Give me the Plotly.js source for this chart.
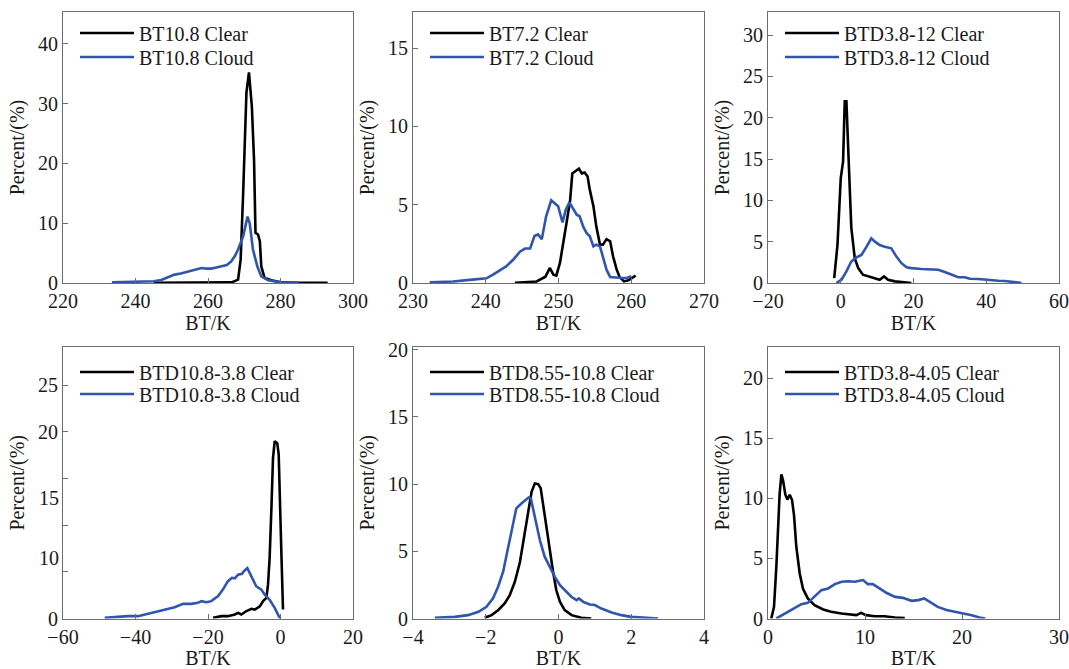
<!DOCTYPE html>
<html><head><meta charset="utf-8">
<script src="https://cdn.plot.ly/plotly-3.0.1.min.js"></script>
<style>html,body{margin:0;padding:0;background:#fff}#chart{width:1069px;height:669px}</style>
</head><body><div id="chart"></div>
<script>
// ---- Panel 1: BT10.8 ----
const bt108ClearX = [245, 255, 262, 266.5, 268.3, 269.0, 269.7, 270.6, 271.3, 272.1, 272.7, 273.1, 273.8, 274.3, 274.7, 275.6, 277.5, 280.3, 285, 293];
const bt108ClearY = [0.05, 0.05, 0.05, 0.1, 0.56, 3.9, 15, 31.8, 35.2, 29.5, 20.6, 8.4, 8.1, 7.0, 2.8, 0.84, 0.45, 0.1, 0.05, 0.05];
const bt108CloudX = [233.5, 238, 242.5, 245, 247.1, 249, 250.8, 252.5, 254.5, 256.5, 258.2, 259.5, 260.9, 262.3, 263.7, 265.2, 266.4, 267.5, 268.3, 269.7, 270.9, 271.5, 272.4, 273.6, 274.7, 276.6, 280.3, 285];
const bt108CloudY = [0.1, 0.15, 0.2, 0.3, 0.5, 0.9, 1.4, 1.6, 1.9, 2.2, 2.5, 2.4, 2.4, 2.6, 2.8, 3.0, 3.6, 4.6, 5.6, 7.8, 11.1, 10.0, 5.6, 2.8, 1.1, 0.45, 0.1, 0.05];

// ---- Panel 2: BT7.2 ----
const bt72ClearX = [244, 247, 248.2, 248.8, 249.3, 249.7, 250.2, 250.6, 251.1, 251.6, 251.9, 252.5, 252.8, 253.2, 253.6, 254.0, 254.3, 254.8, 255.2, 255.7, 256.1, 256.6, 257.1, 257.5, 258.0, 258.4, 259.0, 259.6, 260.3, 260.6];
const bt72ClearY = [0.02, 0.1, 0.4, 0.96, 0.53, 0.47, 1.28, 2.55, 3.83, 5.3, 7.0, 7.2, 7.3, 7.0, 7.06, 6.8, 5.96, 4.9, 3.6, 2.45, 2.45, 2.8, 2.66, 1.7, 0.85, 0.38, 0.1, 0.17, 0.38, 0.47];
const bt72CloudX = [232.3, 235.5, 237.8, 240.1, 241.0, 241.9, 242.8, 243.8, 244.7, 245.4, 246.1, 246.7, 247.2, 247.7, 248.3, 249.0, 249.5, 249.95, 250.55, 251.0, 251.5, 251.9, 252.5, 252.9, 253.4, 253.85, 254.3, 254.8, 255.2, 255.7, 256.1, 256.6, 257.1, 258.0, 258.7, 259.4, 260.0];
const bt72CloudY = [0.04, 0.1, 0.2, 0.3, 0.53, 0.8, 1.06, 1.5, 2.0, 2.2, 2.2, 3.0, 3.1, 2.8, 4.26, 5.28, 5.1, 4.9, 3.87, 4.68, 5.15, 4.8, 4.36, 4.26, 3.6, 3.2, 2.98, 2.34, 2.45, 2.34, 1.6, 0.85, 0.38, 0.32, 0.32, 0.32, 0.43];

// ---- Panel 3: BTD3.8-12 ----
const btd38_12ClearX = [-1.8, -0.9, 0.0, 0.64, 1.1, 1.56, 2.0, 2.5, 2.9, 3.85, 4.8, 6.1, 7.5, 9.4, 10.7, 11.9, 13.0, 14.9, 17.6, 19.4];
const btd38_12ClearY = [0.6, 4.6, 12.7, 14.7, 22.0, 22.0, 16.8, 10.7, 6.7, 3.0, 1.8, 1.0, 0.8, 0.52, 0.4, 0.8, 0.4, 0.2, 0.08, 0.0];
const btd38_12CloudX = [-1.2, 0.2, 1.56, 2.9, 4.3, 5.7, 7.1, 8.4, 9.4, 10.7, 12.1, 13.9, 15.3, 16.7, 18.1, 19.4, 22.2, 24.95, 26.8, 28.6, 30.5, 32.3, 34.1, 35.5, 37.8, 39.6, 41.5, 43.3, 45.1, 46.5, 48.3, 49.7];
const btd38_12CloudY = [0, 0.4, 1.4, 2.6, 3.1, 3.4, 4.4, 5.4, 5.0, 4.6, 4.4, 4.2, 3.2, 2.4, 1.9, 1.8, 1.7, 1.6, 1.6, 1.33, 1.0, 0.7, 0.7, 0.52, 0.48, 0.4, 0.28, 0.28, 0.24, 0.2, 0.08, 0];

// ---- Panel 4: BTD10.8-3.8 ----
const btd108_38ClearX = [-18.6, -16.3, -14.5, -12.6, -11.7, -10.8, -9.4, -8.0, -7.1, -5.7, -4.8, -3.9, -3.45, -3.0, -2.5, -2.07, -1.6, -0.9, -0.5, -0.14, 0.23, 0.69];
const btd108_38ClearY = [0.07, 0.25, 0.25, 0.43, 0.6, 0.43, 0.8, 1.04, 0.96, 1.3, 1.86, 2.2, 3.6, 6.5, 11.9, 17.2, 19.0, 18.8, 17.6, 13.6, 7.2, 0.96];
const btd108_38CloudX = [-48.5, -45.7, -42.1, -39.3, -37.5, -34.7, -32.0, -29.2, -26.9, -24.6, -22.8, -21.8, -20.5, -19.1, -17.2, -15.9, -14.5, -13.4, -12.6, -11.7, -10.6, -10.1, -9.15, -8.0, -6.7, -5.3, -4.4, -3.0, -1.6, -0.5, 0.0];
const btd108_38CloudY = [0.07, 0.18, 0.25, 0.25, 0.43, 0.68, 0.96, 1.2, 1.57, 1.57, 1.68, 1.86, 1.75, 1.86, 2.4, 3.1, 4.0, 4.36, 4.3, 4.7, 4.8, 5.07, 5.4, 4.5, 3.46, 3.1, 2.57, 2.0, 1.14, 0.25, 0];

// ---- Panel 5: BTD8.55-10.8 ----
const btd855_108ClearX = [-2.03, -1.84, -1.66, -1.48, -1.34, -1.2, -1.06, -0.94, -0.83, -0.74, -0.65, -0.56, -0.49, -0.42, -0.33, -0.24, -0.15, -0.06, 0.04, 0.17, 0.36, 0.63, 0.9];
const btd855_108ClearY = [0.05, 0.25, 0.62, 1.12, 1.74, 2.73, 4.2, 6.1, 7.94, 9.43, 10.05, 10.0, 9.7, 8.4, 6.7, 4.96, 3.5, 2.1, 1.24, 0.62, 0.25, 0.05, 0];
const btd855_108CloudX = [-3.4, -2.85, -2.49, -2.2, -1.98, -1.8, -1.66, -1.52, -1.39, -1.28, -1.16, -1.02, -0.93, -0.82, -0.76, -0.65, -0.51, -0.38, -0.24, -0.1, 0.04, 0.17, 0.36, 0.5, 0.56, 0.68, 0.86, 1.0, 1.18, 1.46, 1.73, 2.0, 2.38, 2.74];
const btd855_108CloudY = [0.05, 0.12, 0.25, 0.5, 0.87, 1.5, 2.36, 3.5, 5.2, 6.7, 8.2, 8.56, 8.73, 9.0, 8.93, 7.44, 5.8, 4.6, 3.85, 3.1, 2.48, 2.1, 1.6, 1.36, 1.49, 1.24, 1.04, 1.0, 0.74, 0.45, 0.25, 0.12, 0.05, 0];

// ---- Panel 6: BTD3.8-4.05 ----
const btd38_405ClearX = [0.34, 0.62, 0.86, 1.03, 1.2, 1.38, 1.55, 1.79, 2.0, 2.24, 2.48, 2.68, 2.92, 3.27, 3.6, 4.1, 4.8, 5.7, 6.5, 7.57, 8.4, 9.1, 9.6, 10.1, 11.0, 12.0, 13.1, 14.1];
const btd38_405ClearY = [0, 0.97, 4.3, 7.6, 10.4, 12.0, 11.5, 10.3, 9.9, 10.3, 9.86, 8.6, 5.97, 3.75, 2.5, 1.67, 1.1, 0.75, 0.56, 0.42, 0.33, 0.28, 0.47, 0.28, 0.19, 0.19, 0.08, 0.03];
const btd38_405CloudX = [0.86, 1.72, 2.58, 3.44, 4.1, 4.8, 5.5, 6.2, 6.9, 7.6, 8.26, 8.94, 9.8, 10.3, 10.8, 11.5, 12.2, 13.1, 13.9, 14.8, 15.5, 16.1, 16.7, 17.5, 18.4, 19.3, 20.1, 21.0, 21.8, 22.4];
const btd38_405CloudY = [0, 0.42, 0.83, 1.19, 1.3, 1.8, 2.36, 2.5, 2.86, 3.06, 3.1, 3.06, 3.2, 2.86, 2.86, 2.5, 2.14, 1.8, 1.72, 1.47, 1.53, 1.67, 1.39, 0.97, 0.7, 0.56, 0.42, 0.28, 0.08, 0];

// ---- Labels / ticks ----
const panelNames = ['BT10.8', 'BT7.2', 'BTD3.8-12', 'BTD10.8-3.8', 'BTD8.55-10.8', 'BTD3.8-4.05'];
const xRanges = [[220, 300], [230, 270], [-20, 60], [-60, 20], [-4, 4], [0, 30]];
const yRanges = [[0, 45.3], [0, 17.3], [0, 32.8], [0, 29.1], [0, 20.2], [0, 22.6]];
const xDticks = [20, 10, 20, 20, 2, 10];
const yDticks = [10, 5, 5, 5, 5, 5];
const panel4TickVals = [0, 5, 10, 15, 20, 25];
const panel4TickText = ['0', '', '', '', '20', '25'];
const panel4ShiftedLabelVals = [6.5, 12.9];
const panel4ShiftedLabelText = ['10', '15'];
const xTitle = 'BT/K';
const yTitle = 'Percent/(%)';

const clearX = [bt108ClearX, bt72ClearX, btd38_12ClearX, btd108_38ClearX, btd855_108ClearX, btd38_405ClearX];
const clearY = [bt108ClearY, bt72ClearY, btd38_12ClearY, btd108_38ClearY, btd855_108ClearY, btd38_405ClearY];
const cloudX = [bt108CloudX, bt72CloudX, btd38_12CloudX, btd108_38CloudX, btd855_108CloudX, btd38_405CloudX];
const cloudY = [bt108CloudY, bt72CloudY, btd38_12CloudY, btd108_38CloudY, btd855_108CloudY, btd38_405CloudY];

// ---- Layout geometry ----
const W = 1069, H = 669;
const px2x = p => p / W;
const px2y = p => 1 - p / H;
const cols = [[63, 353], [413, 704], [768, 1059]];
const rows = [[12, 283], [347, 618.5]];
const legendRowsY = [[33, 57], [372, 394]];
const FONT = 'Liberation Serif';
const frameColor = '#6e6e6e';
const BLUE = '#2f55ad';
const TXT = '#1a1a1a';

const traces = [];
const layout = {
  width: W, height: H,
  margin: {l: 0, r: 0, t: 0, b: 0},
  paper_bgcolor: '#fff', plot_bgcolor: '#fff',
  font: {family: FONT, size: 20, color: TXT},
  annotations: [],
  showlegend: true
};

function legendBox(col, yc) {
  return {
    x: px2x(col[0] + 12), y: px2y(yc),
    xanchor: 'left', yanchor: 'middle',
    bgcolor: 'rgba(0,0,0,0)', borderwidth: 0,
    font: {family: FONT, size: 20, color: TXT},
    itemwidth: 54, tracegroupgap: 0
  };
}

let legCount = 0;
for (let i = 0; i < 6; i++) {
  const suf = i === 0 ? '' : String(i + 1);
  const col = cols[i % 3], r = Math.floor(i / 3), row = rows[r];
  const specs = [
    {x: clearX[i], y: clearY[i], name: panelNames[i] + ' Clear', color: '#000'},
    {x: cloudX[i], y: cloudY[i], name: panelNames[i] + ' Cloud', color: BLUE}
  ];
  specs.forEach((s, k) => {
    legCount++;
    const legName = legCount === 1 ? 'legend' : 'legend' + legCount;
    traces.push({
      x: s.x, y: s.y, type: 'scatter', mode: 'lines',
      name: s.name, line: {color: s.color, width: 2.6},
      xaxis: 'x' + suf, yaxis: 'y' + suf, legend: legName
    });
    layout[legName] = legendBox(col, legendRowsY[r][k]);
  });
  layout['xaxis' + suf] = {
    domain: [px2x(col[0]), px2x(col[1])], anchor: 'y' + suf,
    range: xRanges[i], dtick: xDticks[i], tick0: 0,
    ticks: 'inside', ticklen: 5, tickcolor: frameColor, tickwidth: 1,
    showline: true, mirror: true, linecolor: frameColor, linewidth: 1,
    showgrid: false, zeroline: false,
    tickfont: {family: FONT, size: 20, color: TXT},
    title: {text: xTitle, font: {family: FONT, size: 20, color: TXT}, standoff: 4}
  };
  const ya = {
    domain: [px2y(row[1]), px2y(row[0])], anchor: 'x' + suf,
    range: yRanges[i], dtick: yDticks[i], tick0: 0,
    ticks: 'inside', ticklen: 5, tickcolor: frameColor, tickwidth: 1,
    showline: true, mirror: true, linecolor: frameColor, linewidth: 1,
    showgrid: false, zeroline: false,
    tickfont: {family: FONT, size: 20, color: TXT},
    title: {text: yTitle, font: {family: FONT, size: 20, color: TXT}, standoff: 8}
  };
  if (i === 3) {
    ya.tickmode = 'array';
    ya.tickvals = panel4TickVals;
    ya.ticktext = panel4TickText;
  }
  layout['yaxis' + suf] = ya;
}
// Panel 4: tick labels shifted as drawn in the original figure
panel4ShiftedLabelVals.forEach((v, k) => {
  layout.annotations.push({
    xref: 'paper', yref: 'y4', x: px2x(cols[0][0] - 2), y: v,
    xanchor: 'right', yanchor: 'middle', showarrow: false,
    text: panel4ShiftedLabelText[k], font: {family: FONT, size: 20, color: TXT}
  });
});

Plotly.newPlot('chart', traces, layout, {displayModeBar: false, staticPlot: true});
</script>
</body></html>
